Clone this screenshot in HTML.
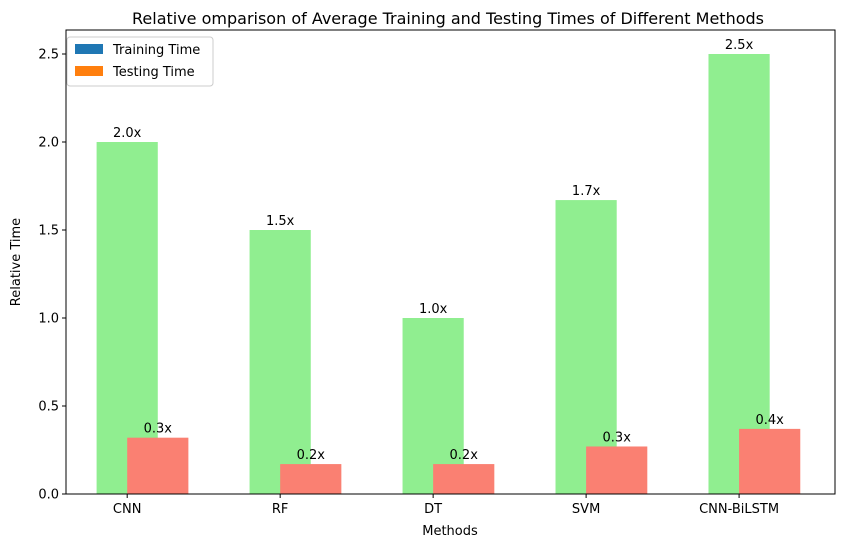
<!DOCTYPE html>
<html><head><meta charset="utf-8"><style>
body{margin:0;background:#fff;font-family:"Liberation Sans","DejaVu Sans",sans-serif;}
svg text{font-family:"DejaVu Sans","Liberation Sans",sans-serif;}
</style></head><body>
<svg id="chart" width="846" height="547" xmlns="http://www.w3.org/2000/svg">
<rect width="846" height="547" fill="#fff"/>
<text x="448" y="24" font-size="16" text-anchor="middle">Relative omparison of Average Training and Testing Times of Different Methods</text>
<g id="bars"></g>
<g id="axes"></g>
<text x="450" y="535" font-size="13" text-anchor="middle">Methods</text>
<text transform="translate(20,262) rotate(-90)" font-size="13" text-anchor="middle">Relative Time</text>
<rect x="66" y="30" width="769" height="464" fill="none" stroke="#000" stroke-width="1"/>
<g>
<rect x="67" y="37" width="146" height="49" fill="#fff" stroke="#ccc" rx="3"/>
<g><rect x="75" y="44" width="28" height="10" fill="#1f77b4"/><text x="113" y="54" font-size="13">Training Time</text></g>
<g><rect x="75" y="66" width="28" height="10" fill="#ff7f0e"/><text x="113" y="76" font-size="13">Testing Time</text></g>
</g>
</svg>
<script>
const categories=["CNN","RF","DT","SVM","CNN-BiLSTM"];
const trainingValues=[2.0,1.5,1.0,1.67,2.5];
const testingValues=[0.32,0.17,0.17,0.27,0.37];
const trainingLabels=["2.0x","1.5x","1.0x","1.7x","2.5x"];
const testingLabels=["0.3x","0.2x","0.2x","0.3x","0.4x"];
const yTicks=[0,0.5,1.0,1.5,2.0,2.5];
const NS="http://www.w3.org/2000/svg";
const L=66,R=835,T=30,B=494,xmin=-0.4,xmax=4.627,ymax=2.5;
const sx=v=>L+(v-xmin)/(xmax-xmin)*(R-L);
const sy=v=>B-v/ymax*(B-54);
const bw=0.4;
const bars=document.getElementById('bars'),axes=document.getElementById('axes');
function mk(tag,attrs,parent){const e=document.createElementNS(NS,tag);for(const k in attrs)e.setAttribute(k,attrs[k]);parent.appendChild(e);return e;}
categories.forEach((c,i)=>{
  const g=mk('rect',{x:sx(i-bw/2),y:sy(trainingValues[i]),width:sx(bw)-sx(0),height:B-sy(trainingValues[i]),fill:'#90ee90'},bars);
  
  
  const r=mk('rect',{x:sx(i),y:sy(testingValues[i]),width:sx(bw)-sx(0),height:B-sy(testingValues[i]),fill:'#fa8072'},bars);
  
  
  const t1=mk('text',{x:sx(i),y:sy(trainingValues[i])-5,'font-size':13,'text-anchor':'middle'},bars);
  t1.textContent=trainingLabels[i];
  
  
  const t2=mk('text',{x:sx(i+bw/2),y:sy(testingValues[i])-5,'font-size':13,'text-anchor':'middle'},bars);
  t2.textContent=testingLabels[i];
  
  
  mk('line',{x1:sx(i),x2:sx(i),y1:B,y2:B+4,stroke:'#000'},axes);
  const xl=mk('text',{x:sx(i),y:B+19,'font-size':13,'text-anchor':'middle'},axes);
  xl.textContent=c;
  
  
});
yTicks.forEach(v=>{
  mk('line',{x1:L-4,x2:L,y1:sy(v),y2:sy(v),stroke:'#000'},axes);
  const yl=mk('text',{x:L-7,y:sy(v)+4.5,'font-size':13,'text-anchor':'end'},axes);
  yl.textContent=v.toFixed(1);
  
  
});
</script>
</body></html>
